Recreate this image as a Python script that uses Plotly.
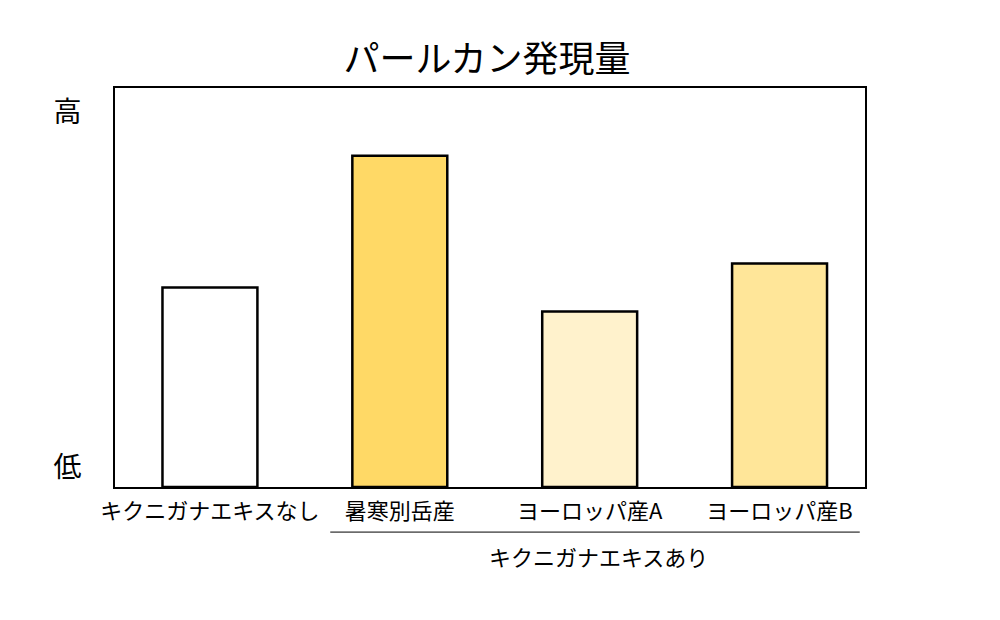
import plotly.graph_objects as go

categories = ["キクニガナエキスなし", "暑寒別岳産", "ヨーロッパ産A", "ヨーロッパ産B"]
values = [0.50, 0.83, 0.44, 0.56]
colors = ["#FFFFFF", "#FFD966", "#FFF2CC", "#FFE699"]
y_tick_vals = [0.05, 0.94]
y_tick_text = ["低", "高"]
group_label = "キクニガナエキスあり"
title = "パールカン発現量"

FONT = "Noto Sans CJK JP"

fig = go.Figure(go.Bar(
    x=categories, y=values,
    marker=dict(color=colors, line=dict(color="#000000", width=2.5)),
    width=0.5,
))

fig.update_layout(
    width=1000, height=620,
    margin=dict(l=115, r=135, t=88, b=133),
    paper_bgcolor="white", plot_bgcolor="white",
    showlegend=False,
    title=dict(text=title, x=0.487, xanchor="center", y=0.905, yanchor="middle",
               font=dict(family=FONT, size=36, color="#000")),
    font=dict(family=FONT, color="#000"),
)
fig.update_xaxes(
    range=[-0.5, 3.45],
    showline=True, linecolor="#000", linewidth=2, mirror=True,
    ticks="", tickfont=dict(size=22, family=FONT, color="#000"),
    showgrid=False, ticklabelstandoff=4,
)
fig.update_yaxes(
    range=[0, 1], showline=True, linecolor="#000", linewidth=2, mirror=True,
    tickvals=y_tick_vals, ticktext=y_tick_text, ticks="",
    tickfont=dict(size=28, family=FONT, color="#000"), showgrid=False, zeroline=False,
    ticklabelstandoff=26,
)
fig.add_shape(type="line", xref="paper", yref="paper",
              x0=0.287, x1=0.993, y0=-0.113, y1=-0.113,
              line=dict(color="#000", width=1))
fig.add_annotation(text=group_label, xref="paper", yref="paper",
                   x=0.645, y=-0.172, xanchor="center", yanchor="middle",
                   showarrow=False, font=dict(family=FONT, size=22, color="#000"))

fig.write_html("out.html")
